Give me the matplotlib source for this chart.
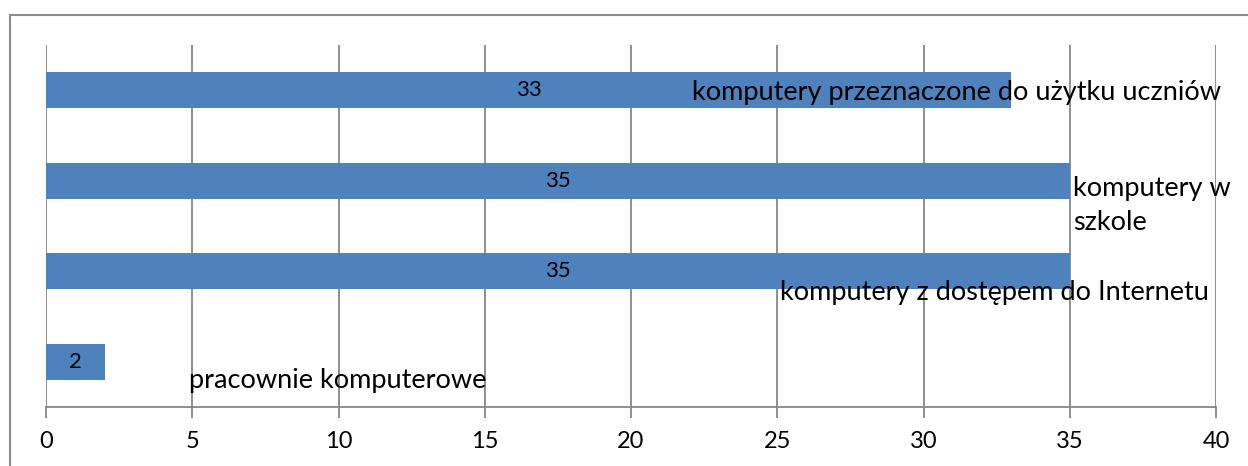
import matplotlib
matplotlib.use("Agg")
import matplotlib.pyplot as plt
from matplotlib.patches import Rectangle

categories = ["komputery przeznaczone do użytku uczniów", "komputery w\nszkole",
              "komputery z dostępem do Internetu", "pracownie komputerowe"]
values = [33, 35, 35, 2]
xticks = [0, 5, 10, 15, 20, 25, 30, 35, 40]

# label placement (data coords) mimicking the original layout
label_x = [22.1, 35.1, 25.1, 4.9]
label_y = [0.02, 1.27, 2.24, 3.21]

plt.rcParams['font.family'] = ['Lato', 'DejaVu Sans']
W, H = 1248, 466
fig = plt.figure(figsize=(W/100, H/100), dpi=100)
ax = fig.add_axes([46/W, 1-407/H, (1216-46)/W, (407-45)/H])

grid_c = '#868686'
ypos = list(range(len(values)))
ax.barh(ypos, values, height=0.4, color='#4F81BD', zorder=3)
ax.set_xlim(0, 40)
ax.set_ylim(3.5, -0.5)
ax.set_xticks(xticks)
ax.set_xticklabels([str(t) for t in xticks], fontsize=17)
ax.set_yticks([])
ax.grid(axis='x', color=grid_c, linewidth=1.3, zorder=0)
for s in ['top', 'right', 'left']:
    ax.spines[s].set_visible(False)
ax.spines['bottom'].set_color(grid_c)
ax.spines['bottom'].set_linewidth(1.3)
ax.tick_params(axis='x', length=8, width=1.3, color=grid_c, pad=9)

for i, v in enumerate(values):
    ax.text(v/2, i, str(v), ha='center', va='center', fontsize=16, zorder=4)
for i, c in enumerate(categories):
    ax.text(label_x[i], label_y[i], c, ha='left', va='center', fontsize=19.5,
            linespacing=1.45, zorder=4)

fig.patches.append(Rectangle((10/W, -0.1), 1.2, 1-15/H+0.1, transform=fig.transFigure,
                             fill=False, edgecolor='#8c8c8c', linewidth=1.5))
fig.savefig('out.png', dpi=100)
